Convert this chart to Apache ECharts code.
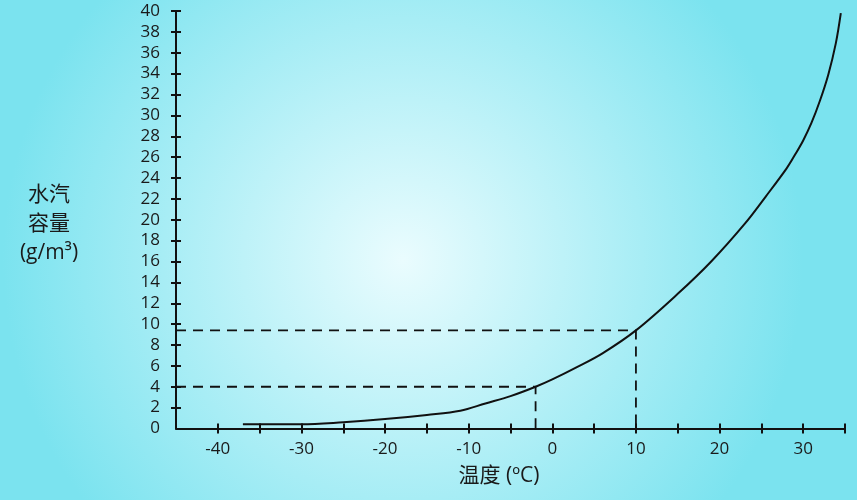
<!DOCTYPE html>
<html>
<head>
<meta charset="utf-8">
<script src="https://cdn.jsdelivr.net/npm/echarts@6/dist/echarts.min.js"></script>
<style>
  html, body { margin: 0; padding: 0; }
  #chart { width: 857px; height: 500px; }
</style>
</head>
<body>
<div id="chart"></div>
<script>
// 温度 (ºC) 与 水汽容量 (g/m³)
const tempX = [-37, -30, -25, -20, -15, -11, -8, -5, -2, 0, 3, 6, 10, 15, 19, 23, 25.5, 28, 29, 30, 31, 32, 33, 33.9, 34.5]
const capacityY = [0.4, 0.4, 0.6, 0.9, 1.3, 1.7, 2.4, 3.1, 4.0, 4.7, 5.9, 7.2, 9.4, 12.9, 16.0, 19.6, 22.2, 24.9, 26.2, 27.6, 29.3, 31.4, 33.9, 36.9, 39.8]

// 虚线辅助线
const guideTemp = [-2, 10]
const guideCap = [4, 9.4]

const xTicks = [-40, -35, -30, -25, -20, -15, -10, -5, 0, 5, 10, 15, 20, 25, 30, 35]
const xLabels = [-40, -30, -20, -10, 0, 10, 20, 30]
const yTicks = [2, 4, 6, 8, 10, 12, 14, 16, 18, 20, 22, 24, 26, 28, 30, 32, 34, 36, 38, 40]
const yLabels = [0, 2, 4, 6, 8, 10, 12, 14, 16, 18, 20, 22, 24, 26, 28, 30, 32, 34, 36, 38, 40]

const xMin = -45
const xMax = 35
const yMin = 0
const yMax = 40

const ink = '#111'
const font = "'Open Sans', 'Noto Sans CJK SC', sans-serif"

const chart = echarts.init(document.getElementById('chart'))

const guideSeries = guideTemp.map((t, i) => ({
  type: 'line',
  symbol: 'none',
  silent: true,
  data: [[xMin, guideCap[i]], [t, guideCap[i]], [t, yMin]],
  lineStyle: { color: ink, width: 1.8, type: [10, 7] }
}))

// 两条轴叠在一起：一条刻度朝外，一条朝内，做出穿过轴线的刻度
const makeX = (inside) => ({
  type: 'value',
  position: 'bottom',
  min: xMin,
  max: xMax,
  interval: 5,
  splitLine: { show: false },
  axisLine: { show: !inside, onZero: false, lineStyle: { color: ink, width: 2 } },
  axisTick: { show: true, inside: inside, length: 5, customValues: xTicks, lineStyle: { color: ink, width: 2 } },
  axisLabel: { show: !inside, customValues: xLabels, margin: 12, fontSize: 17, color: '#1a1a1a', fontFamily: font }
})

const makeY = (inside) => ({
  type: 'value',
  position: 'left',
  min: yMin,
  max: yMax,
  interval: 2,
  splitLine: { show: false },
  axisLine: { show: !inside, onZero: false, lineStyle: { color: ink, width: 2 } },
  axisTick: { show: true, inside: inside, length: 5, customValues: yTicks, lineStyle: { color: ink, width: 2 } },
  axisLabel: { show: !inside, customValues: yLabels, margin: 16, fontSize: 17, color: '#1a1a1a', fontFamily: font }
})

const option = {
  backgroundColor: {
    type: 'radial',
    x: 0.47,
    y: 0.52,
    r: 0.8,
    colorStops: [
      { offset: 0, color: '#eafcfe' },
      { offset: 1, color: '#7be3ef' }
    ]
  },
  animation: false,
  textStyle: { fontFamily: font },
  grid: { left: 176, right: 12, top: 11, bottom: 71.5 },
  xAxis: [makeX(false), makeX(true)],
  yAxis: [makeY(false), makeY(true)],
  graphic: [
    {
      type: 'text',
      x: 49,
      y: 181,
      style: {
        text: '水汽\n容量\n(g/m³)',
        fill: '#1a1a1a',
        font: "21px 'Open Sans', 'Noto Sans CJK SC', sans-serif",
        lineHeight: 29,
        align: 'center'
      }
    },
    {
      type: 'text',
      x: 499,
      y: 476,
      style: {
        text: '温度 (ºC)',
        fill: '#1a1a1a',
        font: "21px 'Open Sans', 'Noto Sans CJK SC', sans-serif",
        align: 'center',
        verticalAlign: 'middle'
      }
    }
  ],
  series: [
    {
      type: 'line',
      symbol: 'none',
      smooth: 0.35,
      data: tempX.map((t, i) => [t, capacityY[i]]),
      lineStyle: { color: ink, width: 2 }
    },
    ...guideSeries
  ]
}

chart.setOption(option)
</script>
</body>
</html>
